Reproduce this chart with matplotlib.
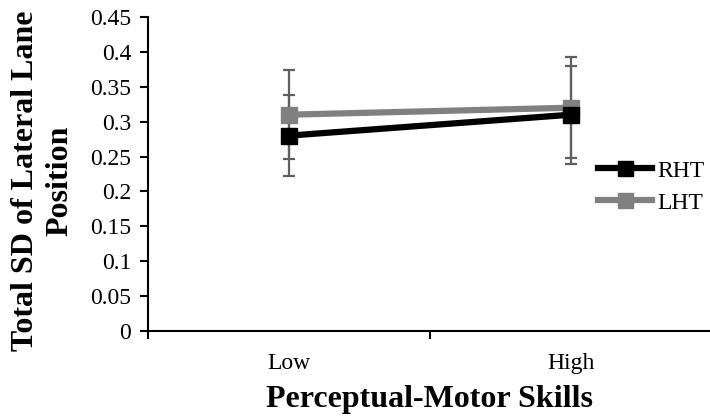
import matplotlib.pyplot as plt

skills = ["Low", "High"]
rht = [0.28, 0.31]
rht_err = [0.058, 0.07]
lht = [0.31, 0.32]
lht_err = [0.064, 0.072]

plt.rcParams["font.family"] = ["Liberation Serif", "DejaVu Serif"]

fig = plt.figure(figsize=(7.1, 4.19), dpi=100)
ax = fig.add_axes([148 / 710, 88 / 419, 564 / 710, 314 / 419])

x = [0.5, 1.5]
err_color = "#5f5f5f"
ax.errorbar(x, rht, yerr=rht_err, fmt="none", ecolor=err_color, elinewidth=1.6,
            capsize=4, capthick=1.6, zorder=1)
ax.errorbar(x, lht, yerr=lht_err, fmt="none", ecolor=err_color, elinewidth=1.6,
            capsize=4, capthick=1.6, zorder=1)
ax.plot(x, rht, color="black", lw=4.5, marker="s", ms=12, label="RHT", zorder=3)
ax.plot(x, lht, color="#808080", lw=4.5, marker="s", ms=12, label="LHT", zorder=2)

ax.set_xlim(0, 2)
ax.set_ylim(0, 0.45)
ax.set_yticks([0, 0.05, 0.1, 0.15, 0.2, 0.25, 0.3, 0.35, 0.4, 0.45])
ax.set_yticklabels(["0", "0.05", "0.1", "0.15", "0.2", "0.25", "0.3", "0.35", "0.4", "0.45"])
ax.set_xticks([0, 1, 2])
ax.set_xticklabels([])
ax.set_xticks(x, minor=True)
ax.set_xticklabels(skills, minor=True)
ax.tick_params(axis="x", which="minor", length=0, pad=16, labelsize=17)
ax.tick_params(axis="x", which="major", length=6, width=1.5, direction="out")
ax.tick_params(axis="y", length=6, width=1.5, direction="out", labelsize=17, pad=6)

for s in ["top", "right"]:
    ax.spines[s].set_visible(False)
ax.spines["left"].set_linewidth(1.5)
ax.spines["bottom"].set_linewidth(1.5)

ax.set_xlabel("Perceptual-Motor Skills", fontsize=23, fontweight="bold", labelpad=8)
fig.text(0.06, 0.568, "Total SD of Lateral Lane\nPosition", rotation=90,
         ha="center", va="center", fontsize=23, fontweight="bold", linespacing=1.25)

fig.legend(loc="upper left", bbox_to_anchor=(598 / 710, 1 - 160 / 419), frameon=False,
           fontsize=17, handlelength=2.3, labelspacing=0.45, handletextpad=0.2,
           borderpad=0, borderaxespad=0, markerscale=0.9)

fig.savefig("out.png", dpi=100)
